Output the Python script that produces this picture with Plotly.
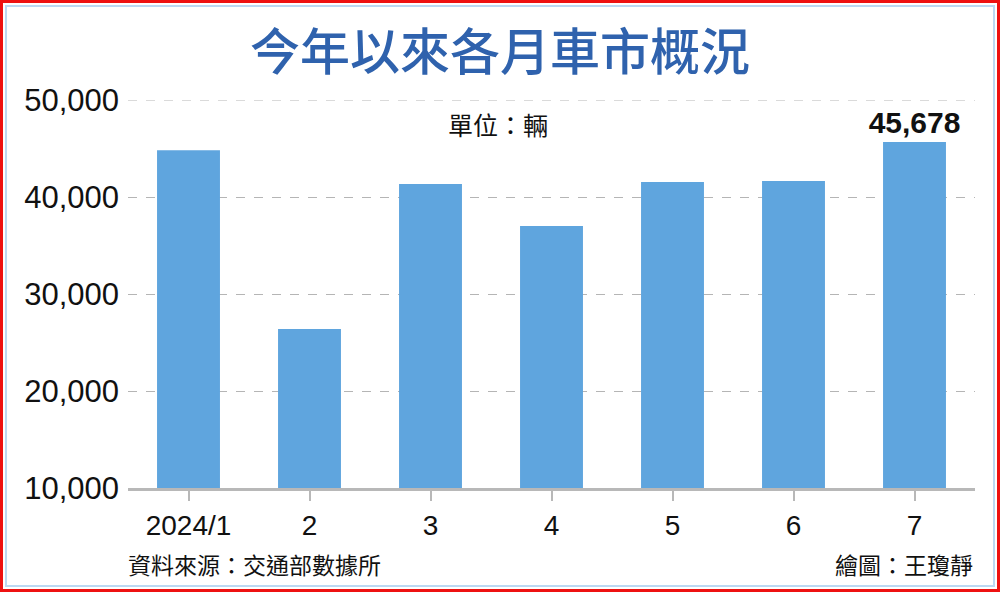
import plotly.graph_objects as go

months = ["2024/1", "2", "3", "4", "5", "6", "7"]
sales = [44820, 26380, 41330, 37010, 41540, 41650, 45678]
y_ticks = [10000, 20000, 30000, 40000, 50000]
y_tick_text = ["10,000", "20,000", "30,000", "40,000", "50,000"]

CJK = "Noto Sans CJK TC"
NUM = "Liberation Sans, Arial, sans-serif"

# plot area is 847 x 388 px; paper coords for the frame lines
W, H, L, B = 847, 388, 128, 104


def px(x):
    return (x - L) / W


def py(y):
    return (592 - B - y) / H


fig = go.Figure()
fig.add_trace(go.Bar(
    x=months, y=sales,
    marker=dict(color="#5fa5de", line=dict(width=0)),
    width=0.52,
    text=[""] * 6 + ["45,678"],
    textposition="outside",
    constraintext="none",
    textfont=dict(family=NUM, size=30, color="#111111", weight="bold"),
    cliponaxis=False,
))

fig.update_layout(
    width=1000, height=592,
    paper_bgcolor="white", plot_bgcolor="white",
    margin=dict(l=L, r=25, t=100, b=B),
    showlegend=False,
    font=dict(family=NUM),
    title=dict(
        text="今年以來各月車市概況",
        x=0.5, xanchor="center", y=1 - 52 / 592, yanchor="middle",
        font=dict(family=CJK, size=50, color="#2f62ad", weight=500),
    ),
    shapes=[
        dict(type="line", xref="paper", yref="y", x0=0, x1=1, y0=50000, y1=50000,
             line=dict(color="#b5b5b5", width=1, dash="dash")),
        dict(type="rect", xref="paper", yref="paper", x0=px(1.5), x1=px(998.5),
             y0=py(590.5), y1=py(1.5), line=dict(color="#ee1111", width=3)),
        dict(type="rect", xref="paper", yref="paper", x0=px(6), x1=px(994),
             y0=py(586), y1=py(6), line=dict(color="#bcd8f2", width=2)),
    ],
    annotations=[
        dict(text="單位：輛", xref="paper", yref="paper", x=px(498), y=py(124),
             xanchor="center", yanchor="middle", showarrow=False,
             font=dict(family=CJK, size=25, color="#111111")),
        dict(text="資料來源：交通部數據所", xref="paper", yref="paper", x=px(126), y=py(564),
             xanchor="left", yanchor="middle", showarrow=False,
             font=dict(family=CJK, size=23, color="#111111")),
        dict(text="繪圖：王瓊靜", xref="paper", yref="paper", x=px(975), y=py(564),
             xanchor="right", yanchor="middle", showarrow=False,
             font=dict(family=CJK, size=23, color="#111111")),
    ],
)

fig.update_xaxes(
    type="category", range=[-0.5, 6.5],
    showline=True, linecolor="#b8b8b8", linewidth=3,
    ticks="outside", ticklen=10, tickwidth=2, tickcolor="#b8b8b8",
    tickfont=dict(family=NUM, size=28, color="#111111"),
    showgrid=False,
)
fig.update_yaxes(
    range=[10000, 50000],
    tickvals=y_ticks, ticktext=y_tick_text,
    tickfont=dict(family=NUM, size=31, color="#111111"),
    showgrid=True, gridcolor="#b5b5b5", griddash="dash", gridwidth=1,
    zeroline=False, showline=False, ticks="", ticklabelstandoff=8,
)

fig.write_html("out.html", config={"displayModeBar": False},
               post_script="document.body.style.margin='0';document.body.style.overflow='hidden';")
